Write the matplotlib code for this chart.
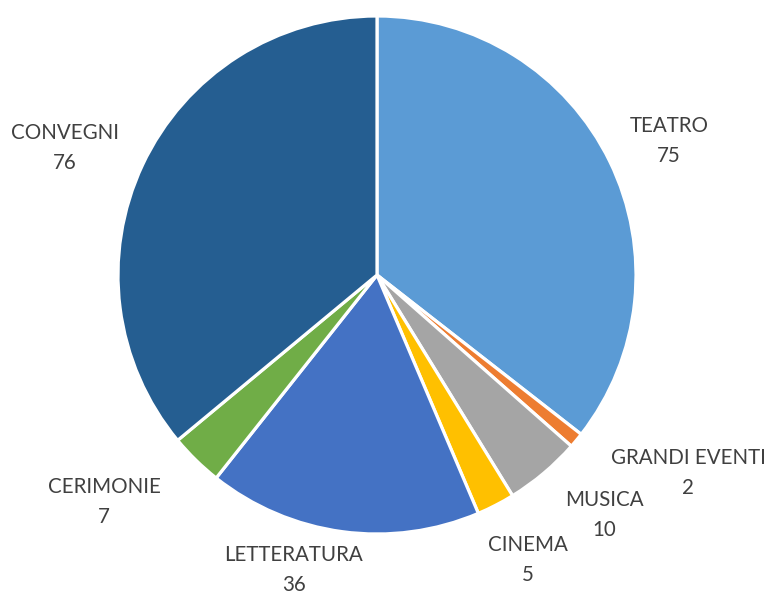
import matplotlib
matplotlib.use("Agg")
import matplotlib.pyplot as plt

categories = ["TEATRO", "GRANDI EVENTI", "MUSICA", "CINEMA", "LETTERATURA", "CERIMONIE", "CONVEGNI"]
values = [75, 2, 10, 5, 36, 7, 76]
colors = ["#5B9BD5", "#ED7D31", "#A5A5A5", "#FFC000", "#4472C4", "#70AD47", "#255E91"]

# label anchor positions (pixels, from top-left)
label_pos = [(669, 141), (688, 473), (604, 515), (528, 560), (294, 570), (104, 502), (65, 148)]

W, H = 768, 592
fig = plt.figure(figsize=(W / 100, H / 100), dpi=100)
ax = fig.add_axes([0, 0, 1, 1])
ax.set_xlim(0, W)
ax.set_ylim(0, H)
ax.set_aspect("equal")
ax.axis("off")

cx, cy, R = 377, H - 275, 259
wedges, _ = ax.pie(values, colors=colors, startangle=90, counterclock=False,
                   center=(cx, cy), radius=R, frame=True,
                   wedgeprops=dict(edgecolor="white", linewidth=2.3))
ax.set_xlim(0, W)
ax.set_ylim(0, H)
ax.axis("off")

for cat, v, (px, py) in zip(categories, values, label_pos):
    ax.text(px, H - py, f"{cat}\n{v}", ha="center", va="center",
            fontsize=14.8, family="Lato", color="#404040", linespacing=1.6)

fig.savefig("out.png", dpi=100)
